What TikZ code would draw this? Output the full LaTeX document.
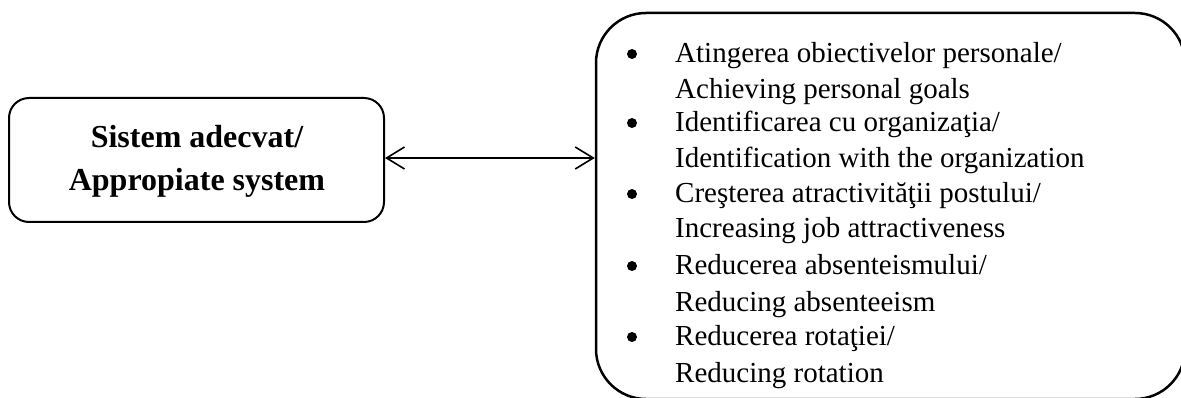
\documentclass[tikz,border=0pt]{standalone}
\usepackage{fontspec}
\setmainfont{Liberation Serif}
\usetikzlibrary{arrows.meta}
\begin{document}
\begin{tikzpicture}[x=1pt,y=-1pt,
  boxstyle/.style={draw=black, fill=none, inner sep=0pt},
  itemtext/.style={anchor=base west, inner sep=0pt, font=\fontsize{29}{35}\selectfont},
  bulletmark/.style={circle, fill=black, inner sep=0pt, minimum size=10pt},
  titletext/.style={anchor=base, inner sep=0pt, font=\fontsize{32}{38}\selectfont\bfseries},
  link/.style={line width=1.6pt, {Straight Barb[length=18pt,width=22pt]}-{Straight Barb[length=18pt,width=22pt]}}]
\useasboundingbox (0,0) rectangle (1181,398);
\clip (0,0) rectangle (1181,398);
% left box
\node[boxstyle, line width=2pt, rounded corners=20pt, minimum width=375pt, minimum height=124pt] (left) at (196.5,160) {};
\node[titletext] (t1) at (197,148) {Sistem adecvat/};
\node[titletext] (t2) at (197,191) {Appropiate system};
% right box
\node[boxstyle, line width=2.5pt, rounded corners=50pt, minimum width=589pt, minimum height=386pt] (right) at (890.5,206) {};
% bullets
\node[bulletmark] (b1) at (632,54) {};
\node[bulletmark] (b2) at (632,123) {};
\node[bulletmark] (b3) at (632,194) {};
\node[bulletmark] (b4) at (632,266) {};
\node[bulletmark] (b5) at (632,337) {};
% items
\node[itemtext] (i1a) at (675,63) {Atingerea obiectivelor personale/};
\node[itemtext] (i1b) at (675,99) {Achieving personal goals};
\node[itemtext] (i2a) at (675,132) {Identificarea cu organizaţia/};
\node[itemtext] (i2b) at (675,168) {Identification with the organization};
\node[itemtext] (i3a) at (675,203) {Creşterea atractivităţii postului/};
\node[itemtext] (i3b) at (675,238) {Increasing job attractiveness};
\node[itemtext] (i4a) at (675,275) {Reducerea absenteismului/};
\node[itemtext] (i4b) at (675,311) {Reducing absenteeism};
\node[itemtext] (i5a) at (675,345) {Reducerea rotaţiei/};
\node[itemtext] (i5b) at (675,382) {Reducing rotation};
% connector
\draw[link] ([yshift=2pt]left.east) -- ([yshift=2pt]left.east -| right.west);
\end{tikzpicture}
\end{document}
